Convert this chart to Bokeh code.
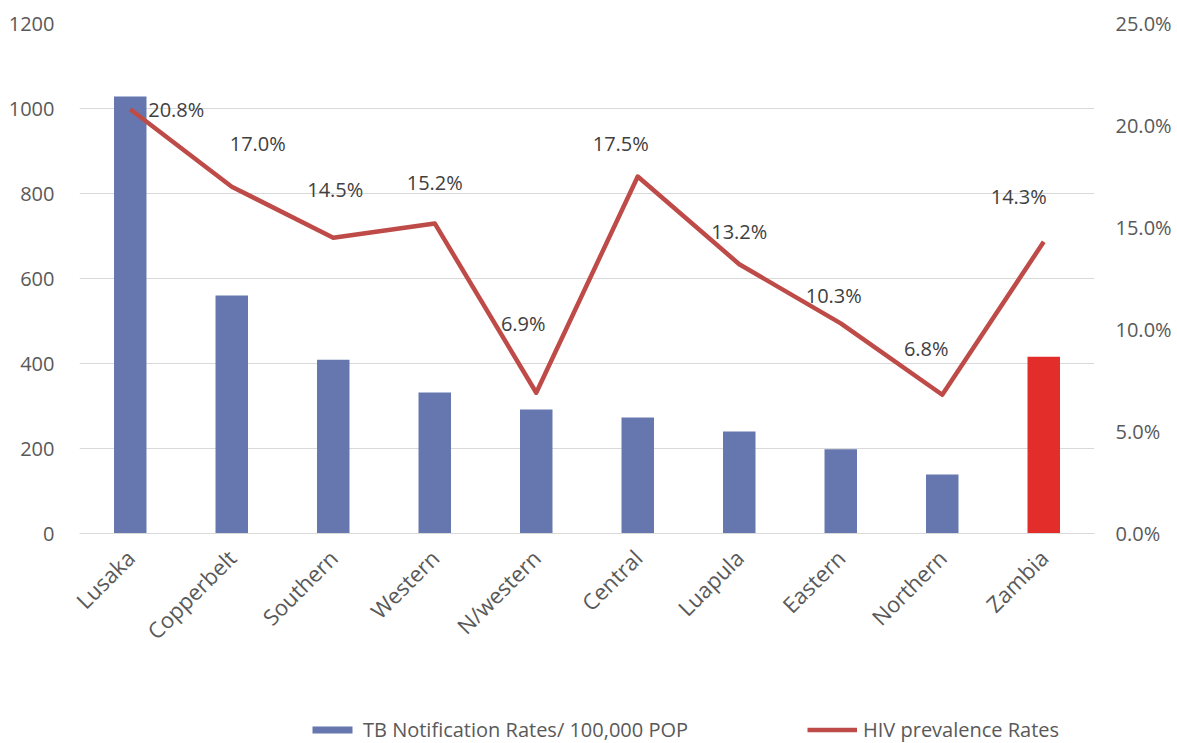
import math
from bokeh.plotting import figure
from bokeh.layouts import column
from bokeh.models import (FactorRange, Range1d, LinearAxis, FixedTicker,
                          PrintfTickFormatter, ColumnDataSource, Legend, LegendItem)
from bokeh.core.properties import value
from bokeh.embed import file_html
from bokeh.resources import INLINE

# ---- data ----
categories = ["Lusaka", "Copperbelt", "Southern", "Western", "N/western",
              "Central", "Luapula", "Eastern", "Northern", "Zambia"]
tb_rates = [1028, 560, 409, 332, 292, 273, 240, 198, 139, 416]
hiv_prev = [20.8, 17.0, 14.5, 15.2, 6.9, 17.5, 13.2, 10.3, 6.8, 14.3]
left_ticks = [0, 200, 400, 600, 800, 1000, 1200]
right_ticks = [0, 5, 10, 15, 20, 25]
tb_name = "TB Notification Rates/ 100,000 POP"
hiv_name = "HIV prevalence Rates"

# ---- styles ----
BAR_BLUE = "#6577AE"
BAR_RED = "#E32D2A"
LINE_RED = "#BE4B48"
bar_colors = [BAR_BLUE] * 9 + [BAR_RED]
label_dx = [46, 26, 2, 0, -13, -17, 0, -7, -16, -25]
label_dy = [0, -43, -48, -41, -69, -33, -33, -28, -46, -45]
FONT = "Open Sans"
GRAY = "#595959"
FS = "20px"

src = ColumnDataSource(dict(
    cat=categories, tb=tb_rates, hiv=hiv_prev,
    lbl=["%.1f%%" % v for v in hiv_prev],
    color=bar_colors, dx=label_dx, dy=label_dy,
))

p = figure(x_range=FactorRange(factors=categories, range_padding=0),
           y_range=Range1d(0, 1200),
           width=1177, height=703, output_backend="svg", toolbar_location=None,
           min_border_left=79, min_border_right=83, min_border_top=23,
           min_border_bottom=170)
p.outline_line_color = None
p.extra_y_ranges = {"hiv": Range1d(0, 25)}

p.vbar(x="cat", top="tb", width=0.32, fill_color="color",
       line_color=None, source=src)
p.line(x="cat", y="hiv", y_range_name="hiv", line_color=LINE_RED,
       line_width=4.5, line_join="round", source=src)
p.text(x="cat", y="hiv", text="lbl", x_offset="dx", y_offset="dy",
       y_range_name="hiv", text_align="center", text_baseline="middle",
       text_font=value(FONT), text_font_size=FS, text_color="#404040",
       source=src)

# axes
p.yaxis.ticker = FixedTicker(ticks=left_ticks)
raxis = LinearAxis(y_range_name="hiv", ticker=FixedTicker(ticks=right_ticks),
                   formatter=PrintfTickFormatter(format="%.1f%%"))
p.add_layout(raxis, "right")

for ax in p.yaxis:
    ax.axis_line_color = None
    ax.major_tick_line_color = None
    ax.minor_tick_line_color = None
    ax.major_label_text_font = FONT
    ax.major_label_text_font_size = FS
    ax.major_label_text_color = GRAY
p.yaxis[0].major_label_standoff = 19
raxis.major_label_standoff = 15

xa = p.xaxis[0]
xa.axis_line_color = "#D9D9D9"
xa.major_tick_line_color = None
xa.minor_tick_line_color = None
xa.major_label_orientation = math.pi / 4
xa.major_label_text_font = FONT
xa.major_label_text_font_size = "22px"
xa.major_label_text_color = GRAY
xa.major_label_standoff = 14

p.xgrid.grid_line_color = None
p.ygrid.grid_line_color = "#D9D9D9"
p.ygrid.ticker = FixedTicker(ticks=left_ticks)

# ---- legend strip: same series drawn with a y range far above them,
# so only the legend keys show ----
lg = figure(width=1177, height=40, output_backend="svg", toolbar_location=None,
            x_range=FactorRange(factors=categories, range_padding=0),
            y_range=Range1d(50000, 60000),
            min_border_left=0, min_border_right=0, min_border_top=0,
            min_border_bottom=0)
lg.axis.visible = False
lg.grid.visible = False
lg.outline_line_color = None
key_bar = lg.vbar(x="cat", top="tb", width=0.32, fill_color="color",
                  line_color=None, source=src)
key_line = lg.line(x="cat", y="hiv", line_color=LINE_RED, line_width=4.5,
                   source=src)

legend = Legend(items=[
    LegendItem(label=tb_name, renderers=[key_bar], index=0),
    LegendItem(label=hiv_name, renderers=[key_line]),
], location=(228, 0), orientation="horizontal", padding=0, margin=0,
   spacing=119, glyph_width=50, glyph_height=9, label_height=20,
   label_standoff=6, border_line_color=None, background_fill_alpha=0,
   label_text_font=FONT, label_text_font_size="20px", label_text_color=GRAY)
lg.add_layout(legend, "center")

open("out.html", "w").write(file_html(column(p, lg), INLINE))
